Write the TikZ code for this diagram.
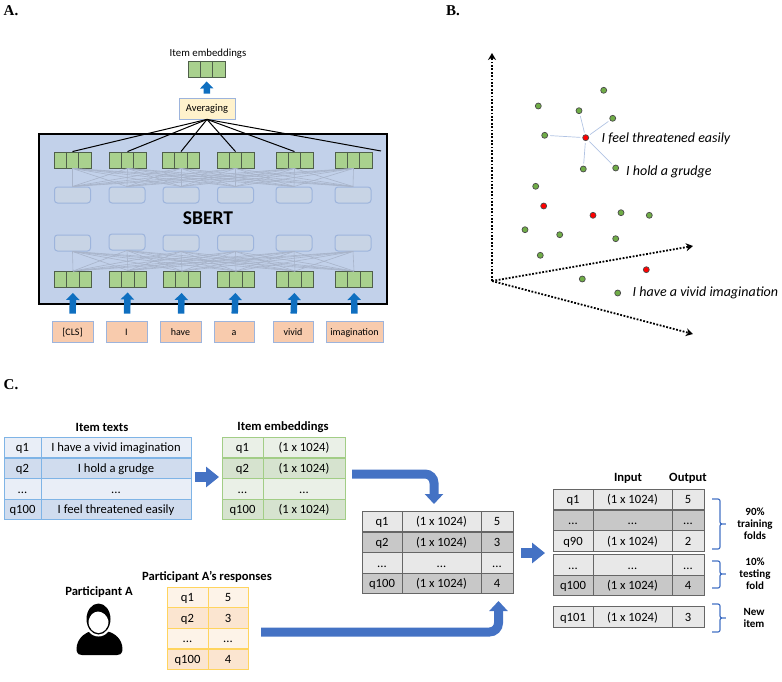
\documentclass[tikz,border=0pt]{standalone}
\usepackage{fontspec}
\setmainfont{Carlito}
\newfontfamily\panelfont{Liberation Serif}
\usetikzlibrary{arrows.meta}

\definecolor{sbertfill}{HTML}{C2D1EA}
\definecolor{hiddenfill}{HTML}{C8D4E5}
\definecolor{crossgrey}{HTML}{A8B4CA}
\definecolor{tripgreen}{HTML}{A9D18E}
\definecolor{tripline}{HTML}{4F5F4A}
\definecolor{tokenfill}{HTML}{F8CBAD}
\definecolor{avgfill}{HTML}{FFF2CC}
\definecolor{softblue}{HTML}{9DB4DC}
\definecolor{arrowblue}{HTML}{0F6FC0}
\definecolor{blockblue}{HTML}{4472C4}
\definecolor{dotgreen}{HTML}{70AD47}
\definecolor{tbluea}{HTML}{E9EEF7}
\definecolor{tblueb}{HTML}{D0DCEE}
\definecolor{tblueline}{HTML}{7FB4E6}
\definecolor{tgreena}{HTML}{EAF0E7}
\definecolor{tgreenb}{HTML}{D6E3CF}
\definecolor{tgreenline}{HTML}{A2CD86}
\definecolor{tyellowa}{HTML}{FDF3E8}
\definecolor{tyellowb}{HTML}{FBE5D0}
\definecolor{tyellowline}{HTML}{FFD45E}
\definecolor{tgreya}{HTML}{E8E8E8}
\definecolor{tgreyb}{HTML}{C8C8C8}

\begin{document}
\begin{tikzpicture}[x=1pt, y=-1pt]
    \tikzset{
        panel/.style = {font=\panelfont\bfseries\fontsize{15}{17}\selectfont},
        triple/.style = {draw=tripline, fill=tripgreen, line width=0.9pt, minimum width=37pt, minimum height=16pt, inner sep=0pt,
            path picture={
                \draw[tripline, line width=0.9pt] ([xshift=-6.2pt]path picture bounding box.north) -- ([xshift=-6.2pt]path picture bounding box.south);
                \draw[tripline, line width=0.9pt] ([xshift=6.2pt]path picture bounding box.north) -- ([xshift=6.2pt]path picture bounding box.south);
            }},
        hidden/.style = {draw=softblue, fill=hiddenfill, rounded corners=3pt, line width=1pt, minimum width=36pt, minimum height=16pt, inner sep=0pt},
        token/.style = {draw=softblue, fill=tokenfill, line width=0.8pt, minimum height=21pt, inner sep=0pt, text height=9pt, text depth=1.8pt, font=\fontsize{10}{12}\selectfont},
        crossline/.style = {draw=crossgrey, line width=0.6pt},
        toarrow/.style = {draw=arrowblue, line width=6.5pt, -{Triangle[length=7pt, width=13pt]}},
        toavg/.style = {draw=black, line width=1pt},
        greendot/.style = {shape=circle, draw=black!70, fill=dotgreen, line width=0.7pt, minimum size=6pt, inner sep=0pt},
        reddot/.style = {shape=circle, draw=black!70, fill=red, line width=0.7pt, minimum size=6pt, inner sep=0pt},
        axis/.style = {draw=black, line width=1.8pt, dash pattern=on 1.8pt off 1.6pt, -{Stealth[length=7pt, width=8pt]}},
        spoke/.style = {draw=softblue!80, line width=0.7pt, shorten >=2pt, shorten <=2pt},
        itemtext/.style = {font=\itshape\fontsize{14}{16}\selectfont},
        title/.style = {font=\bfseries\fontsize{12.6}{14}\selectfont},
        side/.style = {font=\bfseries\fontsize{11}{12}\selectfont, align=center},
        col/.style = {minimum width=#1},
        cell/.style = {draw, line width=0.9pt, minimum height=20.7pt, inner sep=0pt, text height=10pt, text depth=1.6pt, font=\fontsize{12.6}{15}\selectfont},
        bluea/.style = {cell, draw=tblueline, fill=tbluea},
        blueb/.style = {cell, draw=tblueline, fill=tblueb},
        greena/.style = {cell, draw=tgreenline, fill=tgreena},
        greenb/.style = {cell, draw=tgreenline, fill=tgreenb},
        yellowa/.style = {cell, draw=tyellowline, fill=tyellowa},
        yellowb/.style = {cell, draw=tyellowline, fill=tyellowb},
        greya/.style = {cell, draw=black!60, fill=tgreya},
        greyb/.style = {cell, draw=black!60, fill=tgreyb},
        block/.style = {draw=blockblue, line width=10pt, -{Triangle[length=13pt, width=20pt]}},
        bigblock/.style = {draw=blockblue, line width=9pt, rounded corners=9pt, -{Triangle[length=10pt, width=18pt]}},
        bracket/.style = {draw=blockblue, line width=1.2pt, rounded corners=2pt}
    }

    \useasboundingbox (0, 0) rectangle (782, 682);

    % panel A
    \node[panel] (labela) at (11, 11) {A.};
    \node[draw=black, line width=1.8pt, fill=sbertfill, minimum width=348pt, minimum height=170pt, inner sep=0pt] (sbert) at (213, 219) {};
    \node[font=\bfseries\fontsize{19.5}{22}\selectfont] (sberttext) at (208, 218) {SBERT};

    \node[triple] (out1) at (72.5, 160) {};
    \node[triple] (out2) at (127.5, 160) {};
    \node[triple] (out3) at (181, 160) {};
    \node[triple] (out4) at (235.5, 160) {};
    \node[triple] (out5) at (294.5, 160) {};
    \node[triple] (out6) at (353.5, 160) {};

    \node[hidden] (up1) at (72.5, 195) {};
    \node[hidden] (up2) at (127, 195) {};
    \node[hidden] (up3) at (181, 195) {};
    \node[hidden] (up4) at (235.5, 195) {};
    \node[hidden] (up5) at (294, 195) {};
    \node[hidden] (up6) at (353, 195) {};

    \node[hidden] (dn1) at (72.5, 243) {};
    \node[hidden] (dn2) at (127, 242) {};
    \node[hidden] (dn3) at (181, 243) {};
    \node[hidden] (dn4) at (235.5, 243) {};
    \node[hidden] (dn5) at (294, 243) {};
    \node[hidden] (dn6) at (353, 243) {};

    \node[triple] (in1) at (73, 279.5) {};
    \node[triple] (in2) at (128, 279) {};
    \node[triple] (in3) at (182, 279.5) {};
    \node[triple] (in4) at (236, 279.5) {};
    \node[triple] (in5) at (295, 279.5) {};
    \node[triple] (in6) at (354, 279.5) {};

    \foreach \a in {1,...,6}
        \foreach \b in {1,...,6} {
            \draw[crossline] (up\a.north) -- (out\b.south);
            \draw[crossline] (in\a.north) -- (dn\b.south);
        }

    \node[token, minimum width=41pt] (tok1) at (72.5, 331.5) {[CLS]};
    \node[token, minimum width=41pt] (tok2) at (126.5, 331.5) {I};
    \node[token, minimum width=41pt] (tok3) at (180.5, 331.5) {have};
    \node[token, minimum width=40pt] (tok4) at (234, 331.5) {a};
    \node[token, minimum width=40pt] (tok5) at (293, 331.5) {vivid};
    \node[token, minimum width=57pt, font=\fontsize{10}{12}\selectfont] (tok6) at (354.5, 331.5) {imagination};

    \draw[toarrow, shorten <=7pt, shorten >=5pt] (tok1) -- (in1);
    \draw[toarrow, shorten <=7pt, shorten >=5pt] (tok2) -- (in2);
    \draw[toarrow, shorten <=7pt, shorten >=5pt] (tok3) -- (in3);
    \draw[toarrow, shorten <=7pt, shorten >=5pt] (tok4) -- (in4);
    \draw[toarrow, shorten <=7pt, shorten >=5pt] (tok5) -- (in5);
    \draw[toarrow, shorten <=7pt, shorten >=5pt] (tok6) -- (in6);

    \node[draw=softblue, fill=avgfill, line width=0.8pt, minimum width=56pt, minimum height=21pt, inner sep=0pt, font=\fontsize{10.5}{12}\selectfont] (avg) at (207, 108.5) {Averaging};
    \node[triple] (embed) at (206.5, 69) {};
    \node[font=\fontsize{10.8}{12}\selectfont] (embedtext) at (208, 54) {Item embeddings};
    \draw[toarrow, shorten <=4pt, shorten >=4pt] (avg) -- (embed);

    \coordinate (outend) at (381, 151);
    \draw[toavg] (out1.north) -- (avg.south);
    \draw[toavg] (out2.north) -- (avg.south);
    \draw[toavg] (out3.north) -- (avg.south);
    \draw[toavg] (out4.north) -- (avg.south);
    \draw[toavg] (out5.north) -- (avg.south);
    \draw[toavg] (outend) -- (avg.south);

    % panel B
    \node[panel] (labelb) at (453, 11) {B.};
    \coordinate (orig) at (492, 281);
    \coordinate (axisup) at (492, 53);
    \coordinate (axisright) at (693, 246);
    \coordinate (axisdown) at (693, 334);
    \draw[axis] (orig) -- (axisup);
    \draw[axis] (orig) -- (axisright);
    \draw[axis] (orig) -- (axisdown);

    \node[greendot] (g1) at (603.7, 90.3) {};
    \node[greendot] (g2) at (538.3, 106) {};
    \node[greendot] (g3) at (579, 110.7) {};
    \node[greendot] (g4) at (612.7, 118.3) {};
    \node[greendot] (g5) at (544.7, 135.3) {};
    \node[greendot] (g6) at (583.3, 169) {};
    \node[greendot] (g7) at (615.7, 168) {};
    \node[greendot] (g8) at (535.7, 186.3) {};
    \node[greendot] (g9) at (621, 212.7) {};
    \node[greendot] (g10) at (649.3, 215.3) {};
    \node[greendot] (g11) at (525, 229.7) {};
    \node[greendot] (g12) at (559.7, 234.7) {};
    \node[greendot] (g13) at (615.7, 238.7) {};
    \node[greendot] (g14) at (540.3, 255.3) {};
    \node[greendot] (g15) at (582.3, 279) {};
    \node[greendot] (g16) at (617.7, 293) {};

    \node[reddot] (r1) at (585.7, 137.7) {};
    \node[reddot] (r2) at (543.7, 206) {};
    \node[reddot] (r3) at (593, 215.3) {};
    \node[reddot] (r4) at (646.3, 269.7) {};

    \draw[spoke] (r1) -- (g3);
    \draw[spoke] (r1) -- (g4);
    \draw[spoke] (r1) -- (g5);
    \draw[spoke] (r1) -- (g6);
    \draw[spoke] (r1) -- (g7);

    \node[itemtext, anchor=west, inner sep=0pt] (easily) at (601.5, 139) {I feel threatened easily};
    \node[itemtext, anchor=west, inner sep=0pt] (grudge) at (626, 172) {I hold a grudge};
    \node[itemtext, anchor=west, inner sep=0pt] (vivid) at (632.5, 293) {I have a vivid imagination};

    % panel C
    \node[panel] (labelc) at (11, 385) {C.};

    \node[title] (textshead) at (102, 427) {Item texts};
    \node[bluea, col=37pt] (ta1) at (22.5, 447.5) {q1};
    \node[bluea, col=150pt] (tb1) at (116, 447.5) {I have a vivid imagination};
    \node[blueb, col=37pt] (ta2) at (22.5, 468.5) {q2};
    \node[blueb, col=150pt] (tb2) at (116, 468.5) {I hold a grudge};
    \node[bluea, col=37pt] (ta3) at (22.5, 489) {...};
    \node[bluea, col=150pt] (tb3) at (116, 489) {...};
    \node[blueb, col=37pt] (ta4) at (22.5, 509.5) {q100};
    \node[blueb, col=150pt] (tb4) at (116, 509.5) {I feel threatened easily};

    \node[title] (embedhead) at (283, 427) {Item embeddings};
    \node[greena, col=41pt] (ea1) at (242.5, 447.5) {q1};
    \node[greena, col=82pt] (eb1) at (304, 447.5) {(1 x 1024)};
    \node[greenb, col=41pt] (ea2) at (242.5, 468.5) {q2};
    \node[greenb, col=82pt] (eb2) at (304, 468.5) {(1 x 1024)};
    \node[greena, col=41pt] (ea3) at (242.5, 489) {...};
    \node[greena, col=82pt] (eb3) at (304, 489) {...};
    \node[greenb, col=41pt] (ea4) at (242.5, 509.5) {q100};
    \node[greenb, col=82pt] (eb4) at (304, 509.5) {(1 x 1024)};

    \node[title] (parta) at (99, 592) {Participant A};
    \fill[black] (82, 655) .. controls (76, 655) and (76, 650) .. (77, 645) .. controls (79, 637) and (86, 632) .. (92, 631) -- (105, 631) .. controls (113, 632) and (120, 637) .. (122, 645) .. controls (123, 650) and (123, 655) .. (117, 655) -- cycle;
    \fill[white] (98.5, 621) ellipse (13.5pt and 15.5pt);
    \fill[black] (98.5, 619) ellipse (12pt and 15.5pt);
    \fill[white] (88.5, 621) .. controls (90, 615) and (93, 612) .. (98, 611.5) .. controls (103, 612) and (107, 615) .. (108.5, 621) .. controls (108.5, 629) and (103, 633) .. (98.5, 633) .. controls (94, 633) and (88.5, 629) .. (88.5, 621) -- cycle;

    \node[title] (resphead) at (207, 577) {Participant A’s responses};
    \node[yellowa, col=41pt] (ya1) at (187.5, 597.5) {q1};
    \node[yellowa, col=40pt] (yb1) at (228, 597.5) {5};
    \node[yellowb, col=41pt] (ya2) at (187.5, 618) {q2};
    \node[yellowb, col=40pt] (yb2) at (228, 618) {3};
    \node[yellowa, col=41pt] (ya3) at (187.5, 638.5) {...};
    \node[yellowa, col=40pt] (yb3) at (228, 638.5) {...};
    \node[yellowb, col=41pt] (ya4) at (187.5, 659.5) {q100};
    \node[yellowb, col=40pt] (yb4) at (228, 659.5) {4};

    \node[greya, col=40pt] (ma1) at (382, 521.5) {q1};
    \node[greya, col=79pt] (mb1) at (441.5, 521.5) {(1 x 1024)};
    \node[greya, col=32pt] (mc1) at (497, 521.5) {5};
    \node[greyb, col=40pt] (ma2) at (382, 542.5) {q2};
    \node[greyb, col=79pt] (mb2) at (441.5, 542.5) {(1 x 1024)};
    \node[greyb, col=32pt] (mc2) at (497, 542.5) {3};
    \node[greya, col=40pt] (ma3) at (382, 563) {...};
    \node[greya, col=79pt] (mb3) at (441.5, 563) {...};
    \node[greya, col=32pt] (mc3) at (497, 563) {...};
    \node[greyb, col=40pt] (ma4) at (382, 583.5) {q100};
    \node[greyb, col=79pt] (mb4) at (441.5, 583.5) {(1 x 1024)};
    \node[greyb, col=32pt] (mc4) at (497, 583.5) {4};

    \node[title] (inhead) at (628, 478) {Input};
    \node[title] (outhead) at (688, 478) {Output};
    \node[greya, col=40pt] (ra1) at (573, 499.5) {q1};
    \node[greya, col=79pt] (rb1) at (632.5, 499.5) {(1 x 1024)};
    \node[greya, col=32pt] (rc1) at (688, 499.5) {5};
    \node[greyb, col=40pt] (ra2) at (573, 520.5) {...};
    \node[greyb, col=79pt] (rb2) at (632.5, 520.5) {...};
    \node[greyb, col=32pt] (rc2) at (688, 520.5) {...};
    \node[greya, col=40pt] (ra3) at (573, 541) {q90};
    \node[greya, col=79pt] (rb3) at (632.5, 541) {(1 x 1024)};
    \node[greya, col=32pt] (rc3) at (688, 541) {2};

    \node[greya, col=40pt] (ra4) at (573, 565) {...};
    \node[greya, col=79pt] (rb4) at (632.5, 565) {...};
    \node[greya, col=32pt] (rc4) at (688, 565) {...};
    \node[greyb, col=40pt] (ra5) at (573, 585.5) {q100};
    \node[greyb, col=79pt] (rb5) at (632.5, 585.5) {(1 x 1024)};
    \node[greyb, col=32pt] (rc5) at (688, 585.5) {4};

    \node[greya, col=40pt] (ra6) at (573, 617) {q101};
    \node[greya, col=79pt] (rb6) at (632.5, 617) {(1 x 1024)};
    \node[greya, col=32pt] (rc6) at (688, 617) {3};

    \coordinate (textsout) at (195, 477);
    \coordinate (embedin) at (219, 477);
    \coordinate (embedout) at (352, 474);
    \coordinate (tabletop) at (434, 504);
    \coordinate (respout) at (261, 632);
    \coordinate (tablebot) at (498.5, 601);
    \coordinate (tableout) at (521, 553);
    \coordinate (foldsin) at (545, 553);
    \draw[block] (textsout) -- (embedin);
    \draw[block] (tableout) -- (foldsin);
    \draw[bigblock] (embedout) -| (tabletop);
    \draw[bigblock] (respout) -| (tablebot);

    \draw[bracket] (712, 499) -- (720, 499) -- (720, 524) -- (727, 524) -- (720, 524) -- (720, 549) -- (712, 549);
    \draw[bracket] (712, 561) -- (720, 561) -- (720, 574) -- (727, 574) -- (720, 574) -- (720, 588) -- (712, 588);
    \draw[bracket] (712, 604) -- (720, 604) -- (720, 618) -- (727, 618) -- (720, 618) -- (720, 632) -- (712, 632);

    \node[side] (train) at (755, 524) {90\%\\training\\folds};
    \node[side] (test) at (755, 574) {10\%\\testing\\fold};
    \node[side] (newitem) at (754, 618) {New\\item};
\end{tikzpicture}
\end{document}
